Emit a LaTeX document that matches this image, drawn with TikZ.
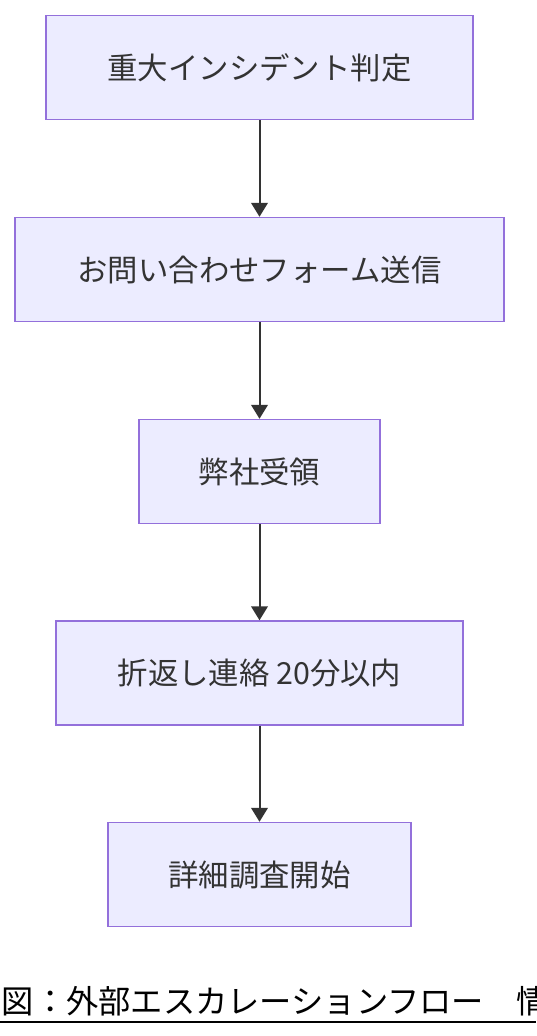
\documentclass[tikz,border=0pt]{standalone}
\usepackage{fontspec}
\setmainfont{Noto Sans CJK JP}
\usepackage{xcolor}
\usetikzlibrary{arrows.meta}
\definecolor{boxfill}{HTML}{ECECFF}
\definecolor{boxline}{HTML}{9370DB}
\definecolor{arrowc}{HTML}{333333}

\tikzset{
  paso/.style={draw=boxline, fill=boxfill, line width=1.1pt, minimum height=78pt, text=arrowc, font=\fontsize{22.8}{27}\selectfont, inner sep=0pt},
  flecha/.style={draw=arrowc, line width=1.5pt, -{Triangle[length=10.5pt,width=12.5pt]}}
}

\begin{document}
\begin{tikzpicture}[x=0.75pt, y=-0.75pt]
        \useasboundingbox (0,0) rectangle (536,1036);
        % Pasos del flujo
        \node[paso, minimum width=320pt] (juicio) at (259.5,67.5) {重大インシデント判定};
        \node[paso, minimum width=366.5pt] (forma) at (259.5,269.5) {お問い合わせフォーム送信};
        \node[paso, minimum width=180.5pt] (recibo) at (259.5,471.5) {弊社受領};
        \node[paso, minimum width=305pt] (respuesta) at (259.5,673) {折返し連絡 20分以内};
        \node[paso, minimum width=227pt] (inicio) at (259.5,874.5) {詳細調査開始};
        % Flechas entre pasos
        \draw[flecha] (juicio) -- (forma);
        \draw[flecha] (forma) -- (recibo);
        \draw[flecha] (recibo) -- (respuesta);
        \draw[flecha] (respuesta) -- (inicio);
        % Pie de figura
        \node[anchor=base west, inner sep=0pt, font=\fontsize{24.2}{28}\selectfont] (pie) at (1.5,1013) {図：外部エスカレーションフロー　情};
        \draw[line width=1.8pt] (0,1022) -- (536,1022);
    \end{tikzpicture}
\end{document}
